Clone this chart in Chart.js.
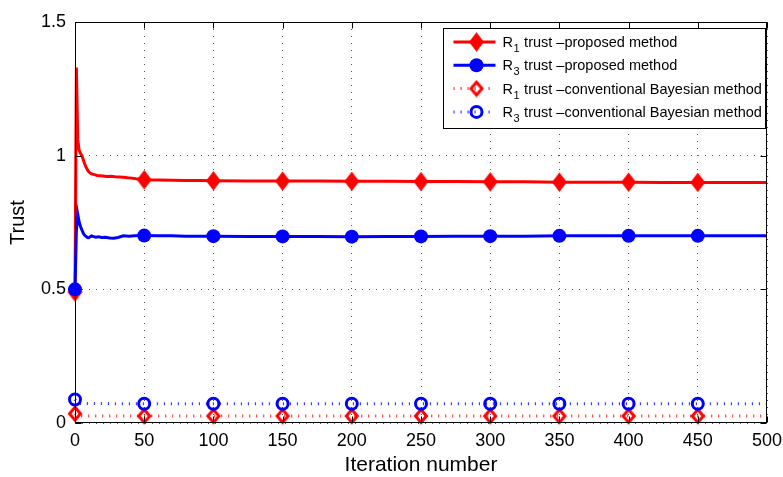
<!DOCTYPE html>
<html lang="en">
<head>
<meta charset="UTF-8" />
<title>Trust vs iteration number</title>
<script src="https://cdn.jsdelivr.net/npm/chart.js"></script>
<style>
  html, body { margin: 0; padding: 0; background: #fff; }
  #wrap { width: 783px; height: 477px; }
</style>
</head>
<body>
<div id="wrap"><canvas id="trustChart" width="783" height="477"></canvas></div>
<script>
// R1 trust - proposed method
const r1PropIter = [0, 1, 2, 3, 4, 5, 6, 7, 8, 9, 10, 11, 12, 14, 16, 18, 20, 23, 26, 29, 32, 35, 38, 41, 44, 47, 50,
  60, 70, 80, 90, 100, 125, 150, 175, 200, 225, 250, 275, 300, 325, 350, 375, 400, 425, 450, 475, 500];
const r1PropTrust = [0.49, 1.33, 1.06, 1.02, 1.008, 1.0, 0.985, 0.97, 0.957, 0.947, 0.94, 0.935, 0.932,
  0.929, 0.926, 0.925, 0.924, 0.922, 0.923, 0.921, 0.92, 0.919, 0.917, 0.916, 0.914, 0.913, 0.91,
  0.909, 0.908, 0.907, 0.907, 0.906, 0.905, 0.905, 0.905, 0.904, 0.904, 0.903, 0.903, 0.902, 0.902,
  0.901, 0.901, 0.901, 0.900, 0.900, 0.900, 0.900];

// R3 trust - proposed method
const r3PropIter = [0, 1, 2, 3, 4, 5, 6, 7, 8, 9, 10, 11, 12, 13, 15, 17, 19, 22, 25, 28, 31, 35, 39, 43, 47, 50,
  60, 70, 80, 90, 100, 125, 150, 175, 200, 225, 250, 275, 300, 325, 350, 375, 400, 425, 450, 475, 500];
const r3PropTrust = [0.5, 0.72, 0.78, 0.752, 0.735, 0.722, 0.71, 0.702, 0.698, 0.694, 0.693, 0.697, 0.7, 0.698,
  0.695, 0.697, 0.694, 0.695, 0.692, 0.691, 0.694, 0.7, 0.699, 0.7, 0.701, 0.701,
  0.7, 0.7, 0.699, 0.699, 0.699, 0.698, 0.698, 0.698, 0.697, 0.698, 0.698, 0.699, 0.699, 0.699,
  0.7, 0.7, 0.7, 0.7, 0.7, 0.7, 0.7];

// conventional Bayesian method
const convIter = [0, 1, 2, 50, 100, 150, 200, 250, 300, 350, 400, 450, 500];
const r1ConvTrust = [0.035, 0.03, 0.026, 0.026, 0.026, 0.026, 0.026, 0.026, 0.026, 0.026, 0.026, 0.026, 0.026];
const r3ConvTrust = [0.088, 0.078, 0.073, 0.072, 0.072, 0.072, 0.072, 0.072, 0.072, 0.072, 0.072, 0.072, 0.072];

// markers are placed every 50 iterations
const markerIter = [0, 50, 100, 150, 200, 250, 300, 350, 400, 450];

const xTicks = [0, 50, 100, 150, 200, 250, 300, 350, 400, 450, 500];
const xTickLabels = ['0', '50', '100', '150', '200', '250', '300', '350', '400', '450', '500'];
const yTicks = [0, 0.5, 1, 1.5];
const yTickLabels = ['0', '0.5', '1', '1.5'];

const legendSub = ['1', '3', '1', '3'];
const legendText = [' trust \u2013proposed method', ' trust \u2013proposed method',
  ' trust \u2013conventional Bayesian method', ' trust \u2013conventional Bayesian method'];

const RED = '#ff0000';
const BLUE = '#0000ff';
const FONT = "'Liberation Sans', Arial, Helvetica, sans-serif";

function toPoints(xs, ys) {
  return xs.map((x, i) => ({ x: x, y: ys[i] }));
}

function makeDiamond(w, h, filled, color, lw) {
  const c = document.createElement('canvas');
  c.width = Math.ceil(w + lw + 2);
  c.height = Math.ceil(h + lw + 2);
  const g = c.getContext('2d');
  const cx = c.width / 2, cy = c.height / 2;
  g.beginPath();
  g.moveTo(cx, cy - h / 2);
  g.lineTo(cx + w / 2, cy);
  g.lineTo(cx, cy + h / 2);
  g.lineTo(cx - w / 2, cy);
  g.closePath();
  g.lineJoin = 'miter';
  if (filled) {
    g.fillStyle = color;
    g.fill();
  }
  g.lineWidth = lw;
  g.strokeStyle = color;
  g.stroke();
  return c;
}

const solidDiamond = makeDiamond(13, 17, true, RED, 1.5);
const hollowDiamond = makeDiamond(11, 13, false, RED, 3);

const markerRadius = (r) => (c) => (c.raw && markerIter.includes(c.raw.x)) ? r : 0;

const frameAndLegend = {
  id: 'frameAndLegend',
  afterDatasetsDraw(chart) {
    const { ctx, chartArea: a, scales } = chart;
    const L = Math.round(a.left) + 0.5, R = Math.round(a.right) - 0.5;
    const T = Math.round(a.top) + 0.5, B = Math.round(a.bottom) - 0.5;
    ctx.save();
    ctx.strokeStyle = '#000';
    ctx.lineWidth = 1;
    ctx.setLineDash([]);
    ctx.strokeRect(L, T, R - L, B - T);
    ctx.beginPath();
    xTicks.forEach(v => {
      const px = Math.round(scales.x.getPixelForValue(v)) + 0.5;
      ctx.moveTo(px, B); ctx.lineTo(px, B - 6);
      ctx.moveTo(px, T); ctx.lineTo(px, T + 6);
    });
    yTicks.forEach(v => {
      const py = Math.round(scales.y.getPixelForValue(v)) + 0.5;
      ctx.moveTo(L, py); ctx.lineTo(L + 6, py);
      ctx.moveTo(R, py); ctx.lineTo(R - 6, py);
    });
    ctx.stroke();
    ctx.restore();
  },
  afterDraw(chart) {
    const { ctx, chartArea: a } = chart;
    const boxL = Math.round(a.right) - 324 + 0.5;
    const boxR = Math.round(a.right) - 2 + 0.5;
    const boxT = Math.round(a.top) + 6 + 0.5;
    const boxB = boxT + 100;
    ctx.save();
    ctx.fillStyle = '#fff';
    ctx.fillRect(boxL, boxT, boxR - boxL, boxB - boxT);
    ctx.strokeStyle = '#000';
    ctx.lineWidth = 1;
    ctx.strokeRect(boxL, boxT, boxR - boxL, boxB - boxT);

    const colors = [RED, BLUE, RED, BLUE];
    legendText.forEach((txt, i) => {
      const y = boxT + 13.5 + i * 23.3;
      const dotted = i >= 2;
      const lx1 = boxL + 10, lx2 = boxL + 52, mx = boxL + 33;
      ctx.strokeStyle = dotted ? (i === 2 ? 'rgba(255,0,0,0.75)' : 'rgba(0,0,255,0.75)') : colors[i];
      ctx.lineWidth = 3;
      ctx.setLineDash(dotted ? [1.2, 5.8] : []);
      ctx.beginPath();
      ctx.moveTo(lx1, y);
      ctx.lineTo(lx2, y);
      ctx.stroke();
      ctx.setLineDash([]);
      if (i === 0) ctx.drawImage(solidDiamond, mx - solidDiamond.width / 2, y - solidDiamond.height / 2);
      if (i === 2) ctx.drawImage(hollowDiamond, mx - hollowDiamond.width / 2, y - hollowDiamond.height / 2);
      if (i === 1) {
        ctx.fillStyle = BLUE;
        ctx.beginPath(); ctx.arc(mx, y, 7, 0, Math.PI * 2); ctx.fill();
      }
      if (i === 3) {
        ctx.strokeStyle = BLUE; ctx.lineWidth = 3;
        ctx.beginPath(); ctx.arc(mx, y, 5.5, 0, Math.PI * 2); ctx.stroke();
      }
      ctx.fillStyle = '#000';
      ctx.textBaseline = 'alphabetic';
      ctx.font = '14.5px ' + FONT;
      const tx = boxL + 59;
      ctx.fillText('R', tx, y + 5);
      const rw = ctx.measureText('R').width;
      ctx.font = '11px ' + FONT;
      ctx.fillText(legendSub[i], tx + rw + 0.5, y + 10);
      const sw = ctx.measureText(legendSub[i]).width;
      ctx.font = '14.5px ' + FONT;
      ctx.fillText(txt, tx + rw + sw + 1, y + 5);
    });
    ctx.restore();
  }
};

new Chart(document.getElementById('trustChart'), {
  type: 'line',
  data: {
    datasets: [
      {
        label: 'R1 trust -proposed method',
        data: toPoints(r1PropIter, r1PropTrust),
        borderColor: RED,
        backgroundColor: RED,
        borderWidth: 3,
        pointStyle: solidDiamond,
        pointRadius: markerRadius(7),
        order: 4
      },
      {
        label: 'R3 trust -proposed method',
        data: toPoints(r3PropIter, r3PropTrust),
        borderColor: BLUE,
        backgroundColor: BLUE,
        borderWidth: 3,
        pointStyle: 'circle',
        pointRadius: markerRadius(7),
        pointBorderWidth: 0,
        pointBackgroundColor: BLUE,
        order: 3
      },
      {
        label: 'R1 trust -conventional Bayesian method',
        data: toPoints(convIter, r1ConvTrust),
        borderColor: 'rgba(255,0,0,0.75)',
        borderWidth: 3,
        borderDash: [1.2, 5.8],
        pointStyle: hollowDiamond,
        pointRadius: markerRadius(6),
        order: 2
      },
      {
        label: 'R3 trust -conventional Bayesian method',
        data: toPoints(convIter, r3ConvTrust),
        borderColor: 'rgba(0,0,255,0.75)',
        borderWidth: 3,
        borderDash: [1.2, 5.8],
        pointStyle: 'circle',
        pointRadius: markerRadius(5.5),
        pointBorderColor: BLUE,
        pointBackgroundColor: 'rgba(0,0,0,0)',
        pointBorderWidth: 3,
        order: 1
      }
    ]
  },
  options: {
    responsive: false,
    animation: false,
    events: [],
    clip: false,
    layout: { padding: { left: 0, top: 22, right: 16, bottom: 0 } },
    plugins: {
      legend: { display: false },
      tooltip: { enabled: false }
    },
    elements: {
      line: { tension: 0, fill: false },
      point: { hoverRadius: 0 }
    },
    scales: {
      x: {
        type: 'linear',
        min: 0,
        max: 500,
        afterBuildTicks: (s) => { s.ticks = xTicks.map(v => ({ value: v })); },
        afterFit: (s) => { s.height = 54; s.paddingLeft = 0; s.paddingRight = 0; },
        ticks: {
          callback: (v, i) => xTickLabels[i],
          padding: 7,
          maxRotation: 0,
          color: '#000',
          font: { family: FONT, size: 18 }
        },
        grid: { color: '#555', lineWidth: 1, drawTicks: false },
        border: { display: false, dash: [1, 6] },
        title: {
          display: true,
          text: 'Iteration number',
          color: '#000',
          font: { family: FONT, size: 21, lineHeight: 1 },
          padding: { top: 0, bottom: 1 }
        }
      },
      y: {
        type: 'linear',
        min: 0,
        max: 1.5,
        afterBuildTicks: (s) => { s.ticks = yTicks.map(v => ({ value: v })); },
        afterFit: (s) => { s.width = 75; },
        ticks: {
          callback: (v, i) => yTickLabels[i],
          padding: 9,
          color: '#000',
          font: { family: FONT, size: 18 }
        },
        grid: { color: '#555', lineWidth: 1, drawTicks: false },
        border: { display: false, dash: [1, 6] },
        title: {
          display: true,
          text: 'Trust',
          color: '#000',
          font: { family: FONT, size: 20, lineHeight: 1.2 },
          padding: { top: 6, bottom: 0 }
        }
      }
    }
  },
  plugins: [frameAndLegend]
});
</script>
</body>
</html>
